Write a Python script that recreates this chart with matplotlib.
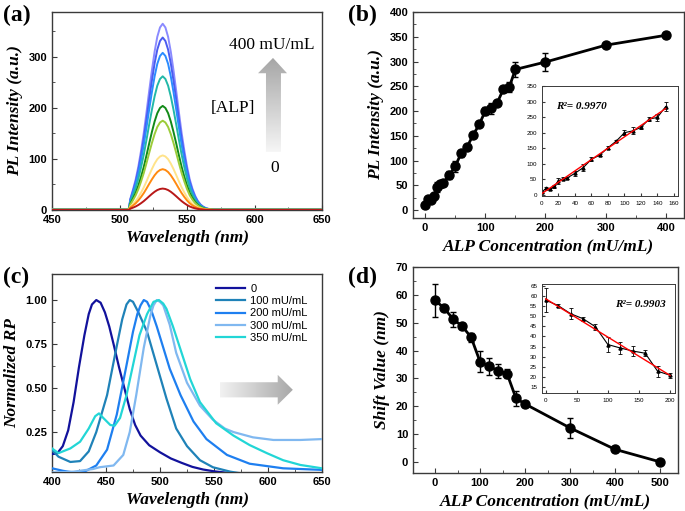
import numpy as np
import matplotlib.pyplot as plt
from matplotlib.patches import Polygon
from matplotlib.colors import LinearSegmentedColormap
from matplotlib.ticker import MultipleLocator, FixedLocator

# ---------------- data ----------------
# (a) PL spectra: common normalised profile and peak heights
wl_a = [450, 505, 507, 508, 510, 512, 514, 516, 518, 520, 522, 524, 526, 528, 530, 532, 534, 536, 538,
        540, 542, 544, 546, 548, 550, 552, 554, 556, 558, 560, 562, 564, 566, 570, 600, 650]
prof_a = [.003, .003, .008, .06, .11, .165, .235, .32, .415, .525, .64, .75, .85, .93, .98, 1.0, .98, .93, .85,
          .75, .64, .525, .415, .32, .235, .165, .115, .077, .049, .03, .018, .01, .006, .003, .003, .003]
peaks_a = [365, 338, 308, 262, 204, 175, 107, 80, 42]
colors_a = ['#8a8aff', '#4a5cf0', '#2a8cff', '#22b8a8', '#128a18', '#9ccc3a', '#ffe38a', '#ff8a10', '#b81818']

# (b) PL intensity vs ALP
conc_b = [0, 5, 10, 15, 20, 25, 30, 40, 50, 60, 70, 80, 90, 100, 110, 120, 130, 140, 150, 200, 300, 400]
pl_b = [10, 22, 20, 28, 46, 52, 54, 70, 88, 115, 128, 152, 173, 200, 206, 217, 244, 249, 284, 299, 333, 353]
err_b = [3, 3, 4, 5, 10, 5, 4, 8, 12, 7, 4, 4, 4, 8, 11, 4, 6, 10, 15, 18, 4, 6]
n_lin_b = 19  # points up to 150 mU/mL in the inset

# (c) normalised spectra
wl_c0 = [400, 405, 410, 415, 420, 425, 430, 434, 437, 441, 445, 449, 453, 457, 462, 467, 472, 477, 482, 490, 500, 510, 520, 530, 540, 550, 560, 570, 580]
y_c0 = [.125, .13, .17, .26, .42, .62, .80, .92, .975, 1.0, .985, .93, .85, .75, .62, .50, .38, .29, .23, .175, .135, .10, .075, .052, .037, .027, .02, .012, .005]
wl_c1 = [400, 406, 417, 426, 434, 441, 451, 460, 465, 469, 472, 475, 480, 488, 497, 506, 515, 525, 537, 549, 565, 580]
y_c1 = [.148, .11, .08, .085, .14, .25, .46, .74, .89, .975, 1.0, .99, .93, .82, .63, .44, .27, .17, .09, .05, .025, .01]
wl_c2 = [400, 410, 420, 430, 441, 451, 460, 469, 475, 479, 482, 485, 488, 492, 497, 503, 509, 519, 531, 543, 562, 583, 614, 650]
y_c2 = [.044, .03, .02, .025, .06, .15, .35, .63, .82, .92, .97, 1.0, .99, .94, .85, .73, .61, .46, .31, .21, .12, .07, .044, .035]
wl_c3 = [400, 420, 438, 444, 457, 466, 472, 478, 485, 491, 494, 497, 500, 503, 509, 515, 525, 537, 549, 560, 568, 586, 605, 630, 650]
y_c3 = [.02, .025, .04, .05, .06, .12, .25, .46, .73, .91, .97, 1.0, .99, .97, .86, .70, .53, .40, .32, .27, .25, .22, .205, .205, .21]
wl_c4 = [400, 406, 410, 417, 426, 434, 440, 443.5, 447.5, 454, 458, 463, 469, 475, 481, 488, 494, 499, 503, 506, 512, 520, 528, 537, 552, 568, 583, 599, 614, 630, 650]
y_c4 = [.157, .13, .14, .157, .195, .27, .34, .356, .33, .29, .286, .33, .46, .63, .80, .92, .99, 1.0, .98, .95, .85, .70, .55, .42, .30, .23, .176, .13, .09, .063, .044]
labels_c = ['0', '100 mU/mL', '200 mU/mL', '300 mU/mL', '350 mU/mL']
colors_c = ['#12129c', '#1f82b8', '#1e7ff0', '#80b8f0', '#22d6d6']

# (d) shift value vs ALP
conc_d = [0, 20, 40, 60, 80, 100, 120, 140, 160, 180, 200, 300, 400, 500]
shift_d = [58, 55.3, 51.3, 48.8, 44.8, 36, 34.3, 32.8, 31.7, 22.8, 20.8, 12.2, 4.5, 0]
err_d = [6, 0.8, 2.7, 1, 1.6, 3.8, 3, 2.5, 1.5, 2.8, 1.2, 3.5, 1, 0.8]
n_lin_d = 11  # points up to 200 mU/mL in the inset

# ---------------- style ----------------
W, H = 685, 511
fig = plt.figure(figsize=(W / 100, H / 100), dpi=100)
lab_font = dict(family='Liberation Serif', fontweight='bold', fontstyle='italic', fontsize=12.5)


def px_axes(l, t, r, b):
    return fig.add_axes([l / W, (H - b) / H, (r - l) / W, (b - t) / H])


def style(ax, size=8, bold=True, major=3.5, minor=2):
    for s in ax.spines.values():
        s.set_color('#3a3a3a')
        s.set_linewidth(1.0 if bold else 0.7)
    ax.tick_params(direction='in', which='both', top=False, right=False, colors='#3a3a3a', labelcolor='black')
    ax.tick_params(which='major', length=major, labelsize=size)
    ax.tick_params(which='minor', length=minor)
    for t in ax.get_xticklabels() + ax.get_yticklabels():
        t.set_family('Liberation Sans')
        t.set_fontweight('bold' if bold else 'normal')


def grad_arrow(ax, verts, vertical, c0, c1):
    poly = Polygon(verts, closed=True, transform=ax.transData, facecolor='none', edgecolor='none')
    ax.add_patch(poly)
    xs = [v[0] for v in verts]
    ys = [v[1] for v in verts]
    g = np.linspace(0, 1, 256)
    img = g[:, None] if vertical else g[None, :]
    cmap = LinearSegmentedColormap.from_list('g', [c0, c1])
    im = ax.imshow(img, extent=[min(xs), max(xs), min(ys), max(ys)], origin='lower',
                   cmap=cmap, aspect='auto', zorder=1)
    im.set_clip_path(poly)


# ---------------- (a) ----------------
ax = px_axes(52, 12, 322, 210)
for pk, c in zip(peaks_a, colors_a):
    ax.plot(wl_a, [pk * p for p in prof_a], color=c, lw=1.4, zorder=3)
ax.xaxis.set_major_locator(MultipleLocator(50))
ax.xaxis.set_minor_locator(MultipleLocator(25))
ax.yaxis.set_major_locator(FixedLocator([0, 100, 200, 300]))
ax.yaxis.set_minor_locator(MultipleLocator(50))
style(ax)
ax.set_xlabel('Wavelength (nm)', labelpad=4, **lab_font)
ax.set_ylabel('PL Intensity (a.u.)', labelpad=4, **lab_font)
grad_arrow(ax, [(608.5, 114), (619.6, 114), (619.6, 268), (624.1, 268), (613.7, 298), (602.6, 268), (608.5, 268)],
           True, '#f6f6f6', '#a6a6a6')
ax.set_xlim(450, 650)
ax.set_ylim(0, 388)
ax.text(612.7, 323, '400 mU/mL', family='Liberation Serif', fontsize=12.5, ha='center', va='center')
ax.text(583.7, 200, '[ALP]', family='Liberation Serif', fontsize=12.5, ha='center', va='center')
ax.text(614.6, 82, '0', family='Liberation Serif', fontsize=12.5, ha='center', va='center')
fig.text(3 / W, 1 - 15 / H, '(a)', family='Liberation Serif', fontweight='bold', fontsize=17, va='center')

# ---------------- (b) ----------------
ax = px_axes(413, 12, 684, 218)
ax.errorbar(conc_b, pl_b, yerr=err_b, color='black', lw=2, marker='o', ms=6.5,
            ecolor='black', elinewidth=1, capsize=2, capthick=1)
ax.set_xlim(-20, 430)
ax.set_ylim(-16, 400)
ax.xaxis.set_major_locator(MultipleLocator(100))
ax.xaxis.set_minor_locator(MultipleLocator(50))
ax.yaxis.set_major_locator(MultipleLocator(50))
ax.yaxis.set_minor_locator(MultipleLocator(25))
style(ax)
ax.set_xlabel('ALP Concentration (mU/mL)', labelpad=4, **lab_font)
ax.set_ylabel('PL Intensity (a.u.)', labelpad=4, **lab_font)
fig.text(348 / W, 1 - 15 / H, '(b)', family='Liberation Serif', fontweight='bold', fontsize=17, va='center')

ins = px_axes(542, 86, 678, 196)
xb, yb, eb = conc_b[:n_lin_b], pl_b[:n_lin_b], err_b[:n_lin_b]
ins.errorbar(xb, yb, yerr=eb, color='black', lw=0.8, marker='^', ms=2.2,
             elinewidth=0.6, capsize=1.2, capthick=0.6)
kb = np.polyfit(xb, yb, 1)
ins.plot([0, 150], np.polyval(kb, [0, 150]), color='red', lw=1, zorder=4)
ins.set_xlim(0, 165)
ins.set_ylim(-3, 350)
ins.xaxis.set_major_locator(MultipleLocator(20))
ins.yaxis.set_major_locator(MultipleLocator(50))
style(ins, size=4.5, bold=False, major=2, minor=1)
ins.text(0.1, 0.81, 'R\u00b2= 0.9970', transform=ins.transAxes, family='Liberation Serif',
         fontweight='bold', fontstyle='italic', fontsize=8, va='center')

# ---------------- (c) ----------------
ax = px_axes(52, 274, 322, 472)
curves_c = [(wl_c0, y_c0), (wl_c1, y_c1), (wl_c2, y_c2), (wl_c3, y_c3), (wl_c4, y_c4)]
for (xw, yv), lb, c in zip(curves_c, labels_c, colors_c):
    ax.plot(xw, yv, color=c, lw=1.6, label=lb, zorder=3)
grad_arrow(ax, [(555.5, 0.447), (609, 0.447), (609, 0.405), (623, 0.49), (609, 0.575), (609, 0.533), (555.5, 0.533)],
           False, '#f2f2f2', '#a8a8a8')
ax.set_xlim(400, 650)
ax.set_ylim(0.023, 1.148)
ax.xaxis.set_major_locator(MultipleLocator(50))
ax.xaxis.set_minor_locator(MultipleLocator(25))
ax.yaxis.set_major_locator(FixedLocator([0.25, 0.5, 0.75, 1.0]))
ax.yaxis.set_minor_locator(FixedLocator([0.125, 0.375, 0.625, 0.875]))
ax.yaxis.set_major_formatter(plt.FormatStrFormatter('%.2f'))
style(ax)
ax.set_xlabel('Wavelength (nm)', labelpad=4, **lab_font)
ax.set_ylabel('Normalized RP', labelpad=4, **lab_font)
ax.legend(loc='upper left', bbox_to_anchor=(0.57, 1.0), frameon=False, handlelength=2.6,
          handletextpad=0.5, labelspacing=0.2, prop=dict(family='Liberation Sans', size=8))
fig.text(3 / W, 1 - 277 / H, '(c)', family='Liberation Serif', fontweight='bold', fontsize=17, va='center')

# ---------------- (d) ----------------
ax = px_axes(413, 267, 678, 473)
ax.errorbar(conc_d, shift_d, yerr=err_d, color='black', lw=2, marker='o', ms=6.5,
            ecolor='black', elinewidth=1, capsize=2, capthick=1)
ax.set_xlim(-49, 540)
ax.set_ylim(-4, 70)
ax.xaxis.set_major_locator(MultipleLocator(100))
ax.xaxis.set_minor_locator(MultipleLocator(50))
ax.yaxis.set_major_locator(MultipleLocator(10))
ax.yaxis.set_minor_locator(MultipleLocator(5))
style(ax)
ax.set_xlabel('ALP Concentration (mU/mL)', labelpad=4, **lab_font)
ax.set_ylabel('Shift Value (nm)', labelpad=4, **lab_font)
fig.text(348 / W, 1 - 277 / H, '(d)', family='Liberation Serif', fontweight='bold', fontsize=17, va='center')

ins = px_axes(542, 284, 675, 393)
xd, yd, ed = conc_d[:n_lin_d], shift_d[:n_lin_d], err_d[:n_lin_d]
ins.errorbar(xd, yd, yerr=ed, color='black', lw=0.8, marker='^', ms=2.2,
             elinewidth=0.6, capsize=1.2, capthick=0.6)
kd = np.polyfit(xd, yd, 1)
ins.plot([0, 200], np.polyval(kd, [0, 200]), color='red', lw=1, zorder=4)
ins.set_xlim(-6, 208)
ins.set_ylim(12, 66)
ins.xaxis.set_major_locator(MultipleLocator(50))
ins.yaxis.set_major_locator(MultipleLocator(5))
style(ins, size=4.5, bold=False, major=2, minor=1)
ins.text(0.74, 0.81, 'R\u00b2= 0.9903', transform=ins.transAxes, family='Liberation Serif',
         fontweight='bold', fontstyle='italic', fontsize=8, va='center', ha='center')

fig.savefig('out.png', dpi=100)
